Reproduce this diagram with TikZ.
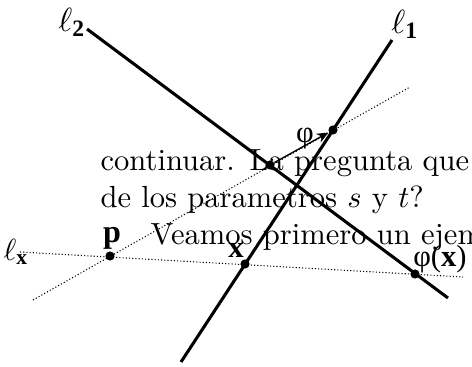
\documentclass[tikz,border=0pt]{standalone}
\usepackage{amsmath}
\usepackage{fontspec}
\usetikzlibrary{arrows.meta}
\newfontfamily\figfont{Liberation Serif}
\newcommand{\bsub}[1]{\text{\figfont\bfseries #1}}

\begin{document}
\begin{tikzpicture}[
  x=0.327pt,
  y=-0.327pt,
  every node/.style={inner sep=0pt},
  thickline/.style={line width=1pt},
  guide/.style={line width=0.35pt, dash pattern=on 0.35pt off 0.7pt},
  maparrow/.style={line width=0.45pt, -{Stealth[length=3.8pt, width=3.2pt]}},
  ptdot/.style={circle, fill, minimum size=3pt},
  figlabel/.style={font=\figfont\fontsize{10}{12}\selectfont},
  para/.style={anchor=base west, font=\fontsize{10}{12}\selectfont}
]
  % ---- page window, 472 x 367 ------------------------------------------
  \useasboundingbox (0,0) rectangle (472,367);
  \clip (0,0) rectangle (472,367);

  % ---- running text behind the figure ----------------------------------
  \node[para] (row1) at (100,171) {continuar.\hspace{4.8pt}La pregunta que};
  \node[para] (row2) at (100,208) {de los parametros $s$ y $t$?};
  \node[para] (row3) at (150,245) {Veamos primero un ejem};

  % ---- end points of the lines ------------------------------------------
  \coordinate (l1a) at (392,40);
  \coordinate (l1b) at (181,362);
  \coordinate (l2a) at (87,29);
  \coordinate (l2b) at (448,298);
  \coordinate (lxa) at (20,252);
  \coordinate (lxb) at (463,277);
  \coordinate (lya) at (33,300);
  \coordinate (lyb) at (410,87);

  % ---- the points -------------------------------------------------------
  \node[ptdot] (p)  at (110,256) {};
  \node[ptdot] (x)  at (245,264) {};
  \node[ptdot] (fx) at (415,274) {};
  \node[ptdot] (y)  at (333,130) {};
  \node[ptdot] (fy) at (270,165) {};

  % ---- lines through p (dotted) -----------------------------------------
  \draw[guide] (lxa) -- (lxb);
  \draw[guide] (lya) -- (lyb);

  % ---- l1 and l2 --------------------------------------------------------
  \draw[thickline] (l1a) -- (l1b);
  \draw[thickline] (l2a) -- (l2b);

  % ---- the map ----------------------------------------------------------
  \draw[maparrow] (fy) -- (y);

  % ---- labels -----------------------------------------------------------
  \node[figlabel, font=\figfont\fontsize{11}{13}\selectfont]
    (ell1) at (405,24) {$\ell_{\bsub{1}}$};
  \node[figlabel, font=\figfont\fontsize{11}{13}\selectfont]
    (ell2) at (72,22) {$\ell_{\bsub{2}}$};
  \node[figlabel] (ellx) at (16,252) {$\ell_{\bsub{x}}$};
  \node[figlabel, anchor=base, font=\figfont\bfseries\fontsize{10.5}{12}\selectfont]
    (lp) at (112,243) {p};
  \node[figlabel, anchor=base, font=\figfont\bfseries\fontsize{10}{12}\selectfont]
    (lx) at (236,258) {x};
  \node[figlabel, anchor=base] (lfx) at (440,267) {φ(\textbf{x})};
  \node[figlabel, anchor=base] (lphi) at (305,142) {φ};
\end{tikzpicture}
\end{document}
